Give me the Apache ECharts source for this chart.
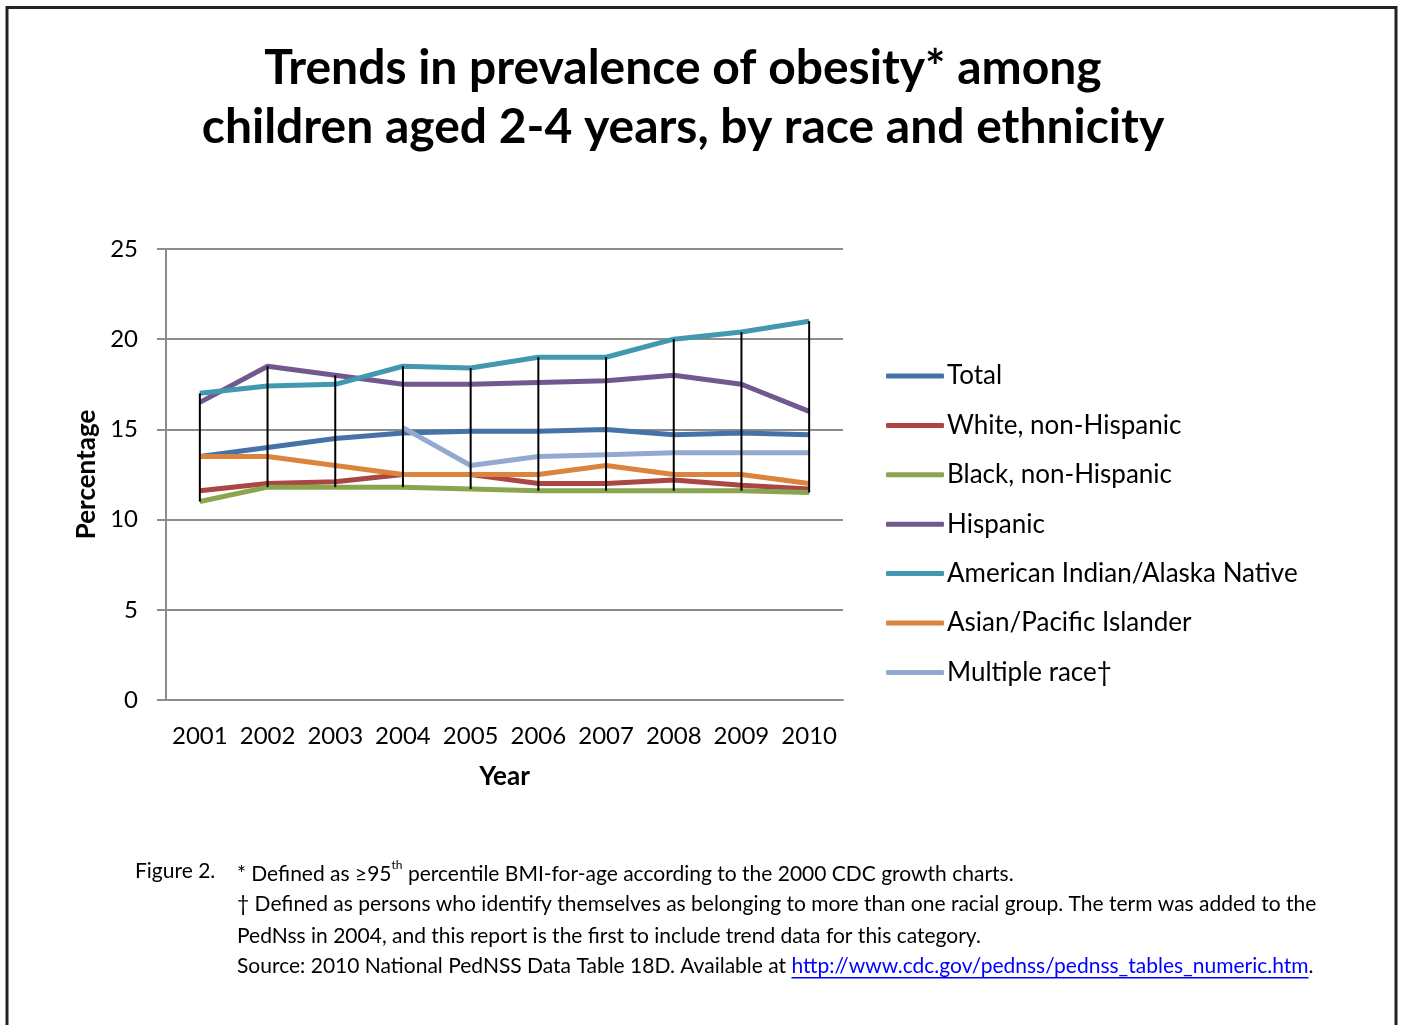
<!DOCTYPE html>
<html>
<head>
<meta charset="utf-8">
<script src="https://cdn.jsdelivr.net/npm/echarts@6/dist/echarts.min.js"></script>
<style>
html,body{margin:0;padding:0;background:#fff;}
#c{width:1401px;height:1025px;}
</style>
</head>
<body>
<div id="c"></div>
<script>
var years = ['2001','2002','2003','2004','2005','2006','2007','2008','2009','2010'];
var seriesNames = ['Total','White, non-Hispanic','Black, non-Hispanic','Hispanic','American Indian/Alaska Native','Asian/Pacific Islander','Multiple race\u2020'];
var total    = [13.5, 14.0, 14.5, 14.8, 14.9, 14.9, 15.0, 14.7, 14.8, 14.7];
var white    = [11.6, 12.0, 12.1, 12.5, 12.5, 12.0, 12.0, 12.2, 11.9, 11.7];
var black    = [11.0, 11.8, 11.8, 11.8, 11.7, 11.6, 11.6, 11.6, 11.6, 11.5];
var hispanic = [16.5, 18.5, 18.0, 17.5, 17.5, 17.6, 17.7, 18.0, 17.5, 16.0];
var aian     = [17.0, 17.4, 17.5, 18.5, 18.4, 19.0, 19.0, 20.0, 20.4, 21.0];
var asian    = [13.5, 13.5, 13.0, 12.5, 12.5, 12.5, 13.0, 12.5, 12.5, 12.0];
var multiple = [null, null, null, 15.1, 13.0, 13.5, 13.6, 13.7, 13.7, 13.7];
var yTicks = [0, 5, 10, 15, 20, 25];
var colors = ['#4572A7','#AA4643','#89A54E','#71588F','#4198AF','#DB843D','#93A9CF'];
var allData = [total, white, black, hispanic, aian, asian, multiple];

var FONT = 'Lato';
var hiLo = years.map(function(y, i){
  var vals = allData.map(function(a){return a[i];}).filter(function(v){return v!=null;});
  return [i, Math.min.apply(null, vals), Math.max.apply(null, vals)];
});

function measure(text, font){
  var cv = document.createElement('canvas').getContext('2d');
  cv.font = font;
  return cv.measureText(text).width;
}

var fnFont = '21px ' + FONT;
var srcPre = 'Source: 2010 National PedNSS Data Table 18D. Available at ';
var srcLink = 'http://www.cdc.gov/pednss/pednss_tables_numeric.htm';
var srcX = 237;
var linkX = srcX + measure(srcPre, fnFont);
var linkW = measure(srcLink, fnFont);

var lineSeries = allData.map(function(d, k){
  return {
    name: seriesNames[k],
    type: 'line',
    data: d,
    symbol: 'none',
    connectNulls: false,
    lineStyle: {width: 5, color: colors[k]},
    itemStyle: {color: colors[k]},
    z: 3,
    animation: false
  };
});
lineSeries.push({
  name: 'hilo',
  type: 'custom',
  data: hiLo,
  z: 5,
  animation: false,
  silent: true,
  renderItem: function(params, api){
    var p1 = api.coord([api.value(0), api.value(1)]);
    var p2 = api.coord([api.value(0), api.value(2)]);
    return {type:'line', shape:{x1:p1[0], y1:p1[1], x2:p2[0], y2:p2[1]}, style:{stroke:'#000', lineWidth:2}};
  }
});

var chart = echarts.init(document.getElementById('c'), null, {renderer:'canvas'});
chart.setOption({
  backgroundColor: '#fff',
  animation: false,
  title: {
    text: 'Trends in prevalence of obesity* among\nchildren aged 2-4 years, by race and ethnicity',
    left: 678, top: 34, textAlign: 'center',
    textStyle: {fontFamily: FONT, fontWeight: 'bold', fontSize: 48, lineHeight: 59, color: '#000'}
  },
  legend: {
    orient: 'vertical',
    left: 886, top: 363, padding: 0,
    data: seriesNames,
    itemWidth: 58, itemHeight: 5, itemGap: 23.4,
    icon: 'roundRect',
    textStyle: {fontFamily: FONT, fontSize: 26, color: '#000', lineHeight: 26, padding: [0,0,0,-2]},
    selectedMode: false
  },
  grid: {left: 166, top: 249, width: 677, height: 451, containLabel: false},
  xAxis: {
    type: 'category', data: years, boundaryGap: true,
    axisLine: {lineStyle: {color: '#8c8c8c', width: 2}},
    axisTick: {show: false},
    axisLabel: {fontFamily: FONT, fontSize: 24, color: '#000', margin: 24, interval: 0},
    name: 'Year', nameLocation: 'middle', nameGap: 64,
    nameTextStyle: {fontFamily: FONT, fontWeight: 'bold', fontSize: 26, color: '#000'}
  },
  yAxis: {
    type: 'value', min: 0, max: 25, interval: 5,
    axisLine: {show: true, lineStyle: {color: '#8c8c8c', width: 2}},
    axisTick: {show: true, length: 9, lineStyle: {color: '#8c8c8c', width: 2}},
    splitLine: {lineStyle: {color: '#8c8c8c', width: 2}},
    axisLabel: {fontFamily: FONT, fontSize: 24, color: '#000', margin: 28,
      formatter: function(v){ return yTicks.indexOf(v) >= 0 ? String(v) : ''; }},
    name: 'Percentage', nameLocation: 'middle', nameGap: 66, nameRotate: 90,
    nameTextStyle: {fontFamily: FONT, fontWeight: 'bold', fontSize: 26, color: '#000'}
  },
  graphic: [
    {type:'polyline', shape:{points:[[7,1025],[7,7.5],[1396,7.5],[1396,1025]]}, style:{stroke:'#222', lineWidth:3, fill:null}, silent:true},
    {type:'text', left: 135, top: 861, style:{text:'Figure 2.', font: fnFont, fill:'#000'}},
    {type:'text', left: 237, top: 859, style:{
      text: '{n|* Defined as \u226595}{s|th}{n| percentile BMI-for-age according to the 2000 CDC growth charts.}',
      rich: {n:{font: fnFont, fill:'#000', verticalAlign:'bottom', lineHeight: 26}, s:{font:'12px ' + FONT, fill:'#000', verticalAlign:'top', lineHeight: 26}}
    }},
    {type:'text', left: 237, top: 894, style:{text:'\u2020 Defined as persons who identify themselves as belonging to more than one racial group. The term was added to the', font: fnFont, fill:'#000'}},
    {type:'text', left: 237, top: 926, style:{text:'PedNss in 2004, and this report is the first to include trend data for this category.', font: fnFont, fill:'#000'}},
    {type:'text', left: srcX, top: 956, style:{text: srcPre, font: fnFont, fill:'#000'}},
    {type:'text', left: linkX, top: 956, style:{text: srcLink, font: fnFont, fill:'#0000ff'}},
    {type:'text', left: linkX + linkW, top: 956, style:{text: '.', font: fnFont, fill:'#000'}},
    {type:'rect', shape:{x: linkX, y: 977, width: linkW, height: 1.5}, style:{fill:'#0000ff'}}
  ],
  series: lineSeries
});
</script>
</body>
</html>
